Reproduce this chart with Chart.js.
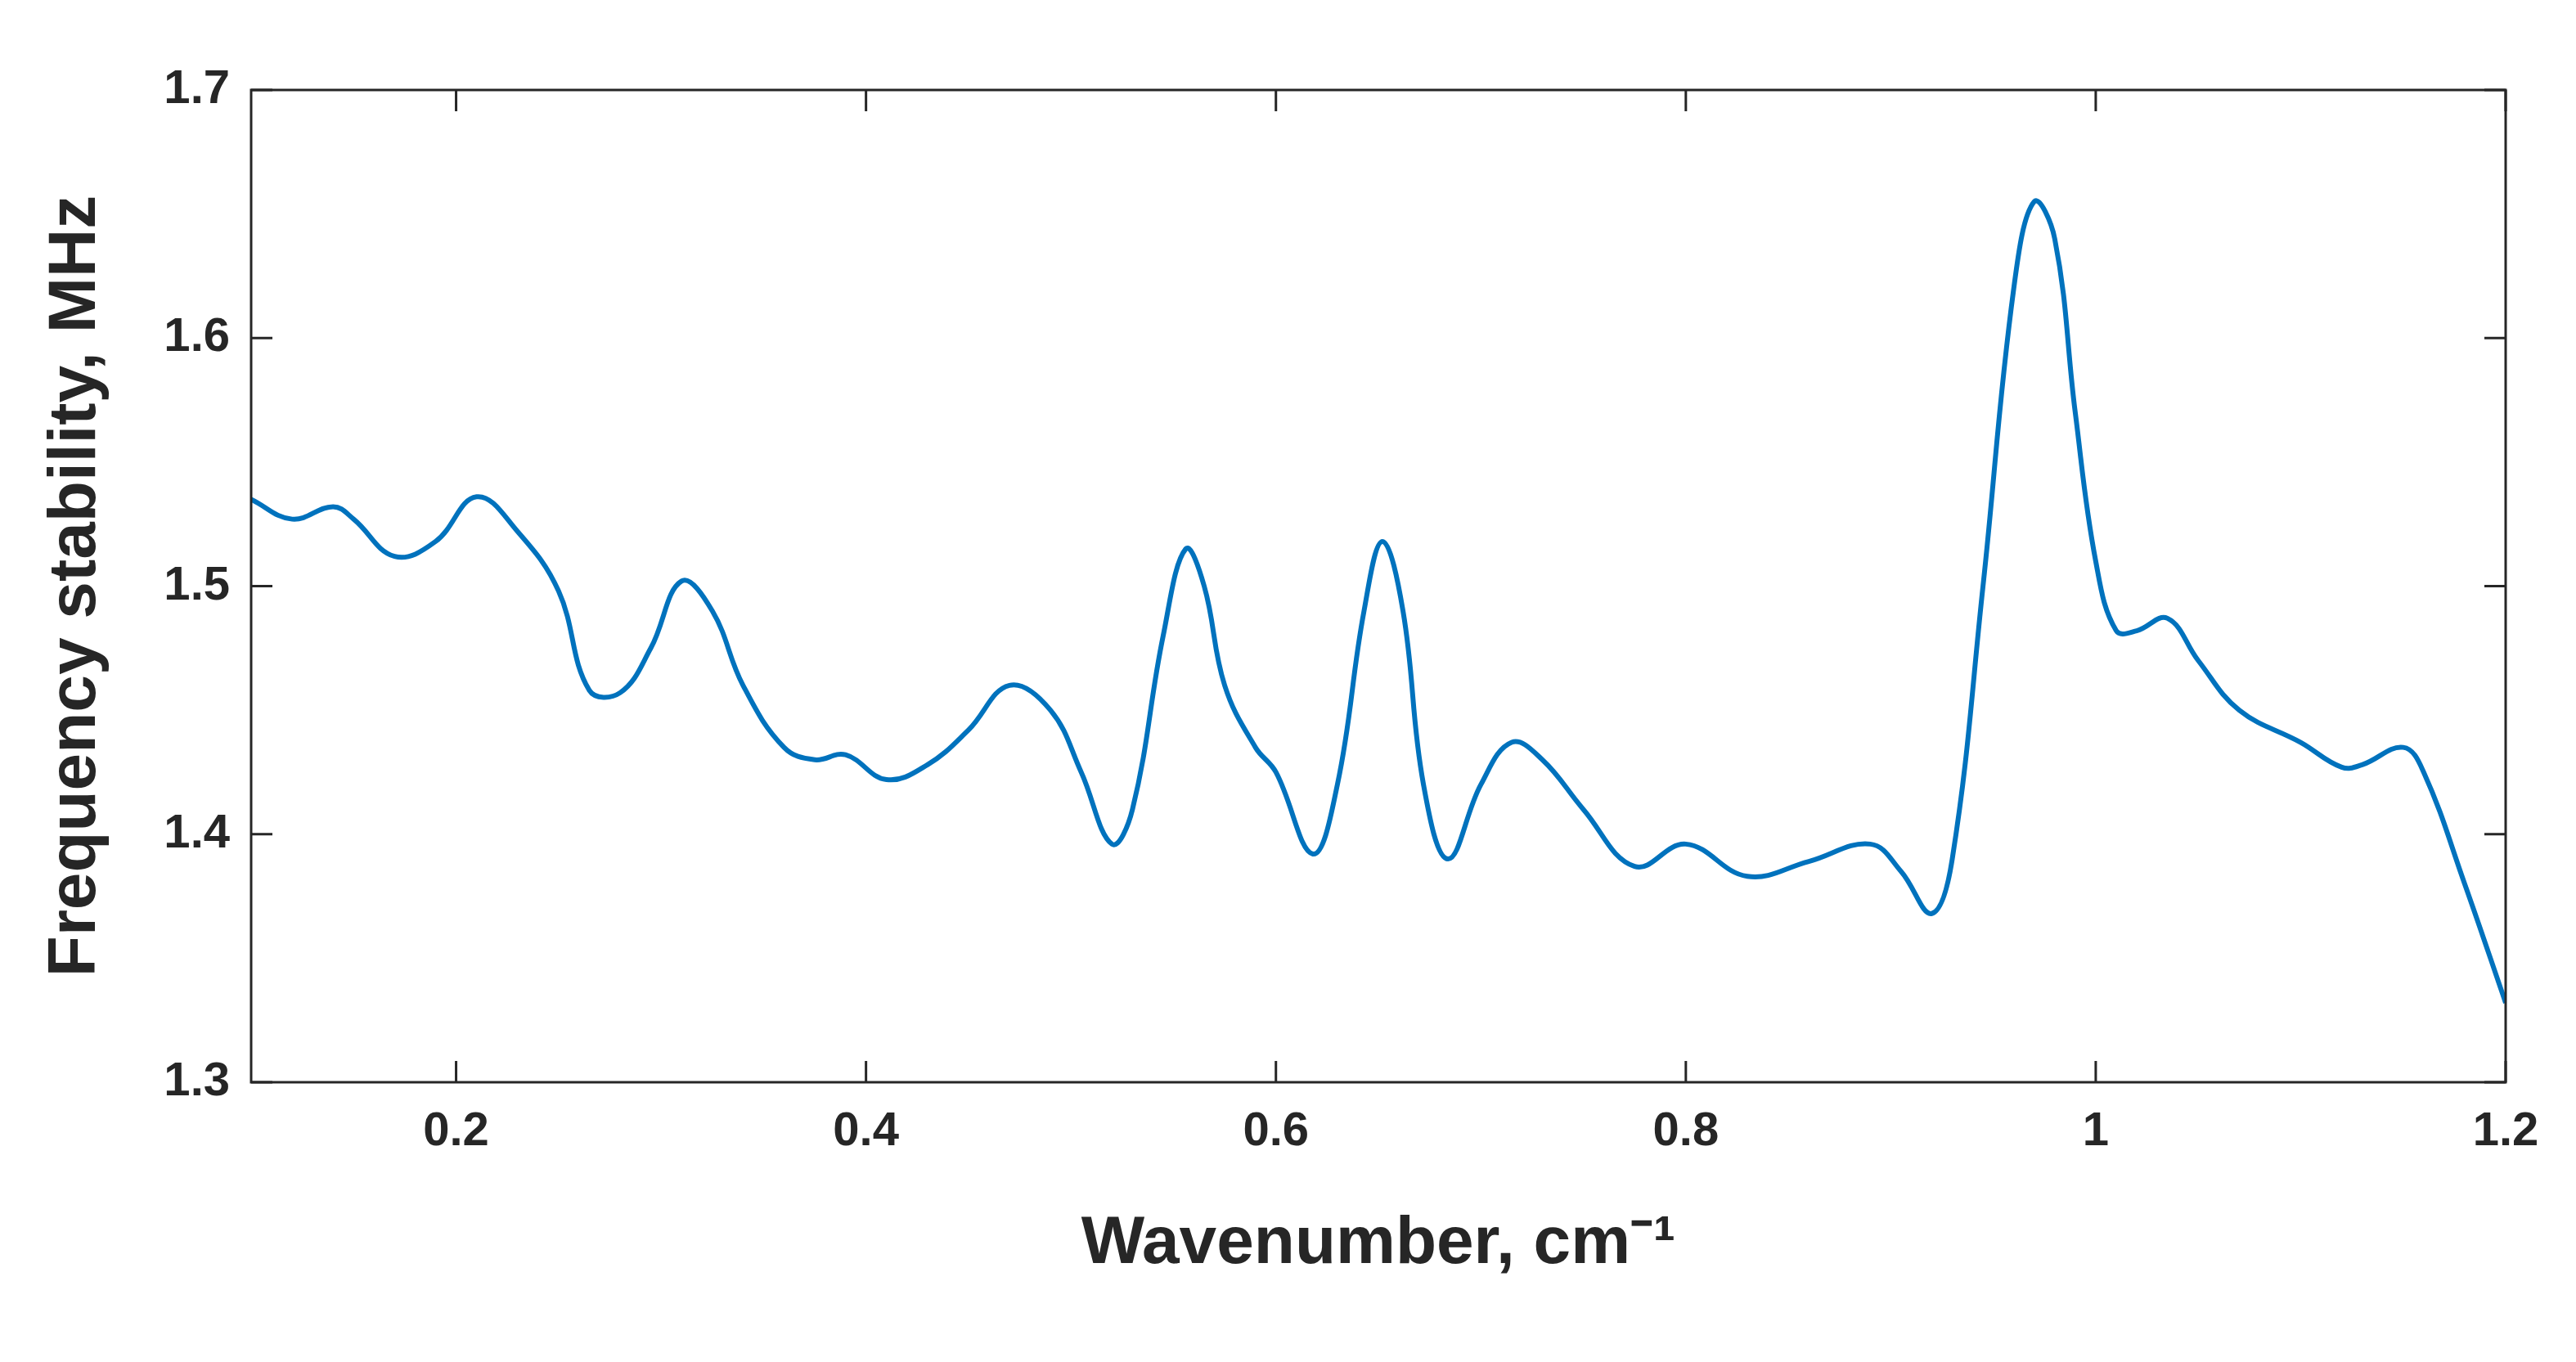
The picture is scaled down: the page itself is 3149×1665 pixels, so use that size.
<!DOCTYPE html>
<html>
<head>
<meta charset="utf-8">
<script src="https://cdn.jsdelivr.net/npm/chart.js@4"></script>
<style>
html, body { margin: 0; padding: 0; background: #fff; }
#wrap { width: 3149px; height: 1665px; }
</style>
</head>
<body>
<div id="wrap"><canvas id="myChart" width="3149" height="1665"></canvas></div>
<script>
const wavenumber = [0.1, 0.12, 0.14, 0.15, 0.17, 0.19, 0.21, 0.23, 0.25, 0.265, 0.28, 0.295, 0.31, 0.325, 0.34, 0.36, 0.375, 0.39, 0.41, 0.43, 0.45, 0.47, 0.49, 0.505, 0.52, 0.53, 0.545, 0.556, 0.565, 0.575, 0.59, 0.6, 0.618, 0.63, 0.643, 0.652, 0.662, 0.672, 0.684, 0.7, 0.715, 0.73, 0.75, 0.775, 0.8, 0.83, 0.86, 0.89, 0.905, 0.92, 0.93, 0.945, 0.96, 0.97, 0.98, 0.99, 1.0, 1.01, 1.02, 1.035, 1.05, 1.07, 1.1, 1.12, 1.13, 1.15, 1.16, 1.18, 1.2];
const stability = [1.535, 1.527, 1.532, 1.527, 1.512, 1.518, 1.536, 1.522, 1.498, 1.458, 1.457, 1.475, 1.502, 1.49, 1.46, 1.435, 1.43, 1.432, 1.422, 1.428, 1.442, 1.46, 1.45, 1.425, 1.396, 1.41, 1.48, 1.515, 1.5, 1.46, 1.435, 1.425, 1.392, 1.42, 1.49, 1.518, 1.49, 1.42, 1.39, 1.42, 1.437, 1.43, 1.41, 1.387, 1.396, 1.383, 1.389, 1.396, 1.385, 1.368, 1.39, 1.5, 1.62, 1.655, 1.64, 1.57, 1.51, 1.482, 1.482, 1.487, 1.47, 1.45, 1.437, 1.427, 1.428, 1.435, 1.425, 1.38, 1.332];
const xTicks = [0.2, 0.4, 0.6, 0.8, 1, 1.2];
const yTicks = [1.3, 1.4, 1.5, 1.6, 1.7];

const font = { family: 'Liberation Sans, Arial, sans-serif', weight: 'bold' };

// box around the plot with inward ticks, like the original figure
const boxPlugin = {
    id: 'box',
    afterDraw(chart) {
        const c = chart.ctx, a = chart.chartArea;
        const sx = chart.scales.x, sy = chart.scales.y;
        c.save();
        c.strokeStyle = '#262626';
        c.lineWidth = 3;
        c.strokeRect(a.left, a.top, a.right - a.left, a.bottom - a.top);
        c.beginPath();
        xTicks.forEach(v => {
            const p = sx.getPixelForValue(v);
            c.moveTo(p, a.bottom); c.lineTo(p, a.bottom - 26);
            c.moveTo(p, a.top); c.lineTo(p, a.top + 26);
        });
        yTicks.forEach(v => {
            const p = sy.getPixelForValue(v);
            c.moveTo(a.left, p); c.lineTo(a.left + 26, p);
            c.moveTo(a.right, p); c.lineTo(a.right - 26, p);
        });
        c.stroke();
        c.restore();
    }
};

new Chart(document.getElementById('myChart'), {
    type: 'line',
    data: {
        datasets: [{
            data: wavenumber.map((x, i) => ({ x: x, y: stability[i] })),
            borderColor: '#0072BD',
            borderWidth: 6,
            pointRadius: 0,
            tension: 0.4,
            fill: false
        }]
    },
    options: {
        responsive: false,
        animation: false,
        layout: { padding: { top: 110, right: 86, left: 40, bottom: 90 } },
        plugins: { legend: { display: false }, tooltip: { enabled: false } },
        scales: {
            x: {
                type: 'linear',
                min: 0.1,
                max: 1.2,
                afterBuildTicks: s => { s.ticks = xTicks.map(v => ({ value: v })); },
                afterFit: s => { s.height = 252; },
                grid: { display: false },
                border: { display: false },
                ticks: {
                    color: '#262626',
                    font: { ...font, size: 58 },
                    padding: 18,
                    maxRotation: 0,
                    callback: v => String(Math.round(v * 10) / 10)
                },
                title: {
                    display: true,
                    text: 'Wavenumber, cm⁻¹',
                    color: '#262626',
                    font: { ...font, size: 82 },
                    padding: { top: 10 }
                }
            },
            y: {
                min: 1.3,
                max: 1.7,
                afterBuildTicks: s => { s.ticks = yTicks.map(v => ({ value: v })); },
                afterFit: s => { s.width = 267; },
                grid: { display: false },
                border: { display: false },
                ticks: {
                    color: '#262626',
                    font: { ...font, size: 58 },
                    padding: 18,
                    callback: v => v.toFixed(1)
                },
                title: {
                    display: true,
                    text: 'Frequency stability, MHz',
                    color: '#262626',
                    font: { ...font, size: 82 },
                    padding: { bottom: 10 }
                }
            }
        }
    },
    plugins: [boxPlugin]
});
</script>
</body>
</html>
